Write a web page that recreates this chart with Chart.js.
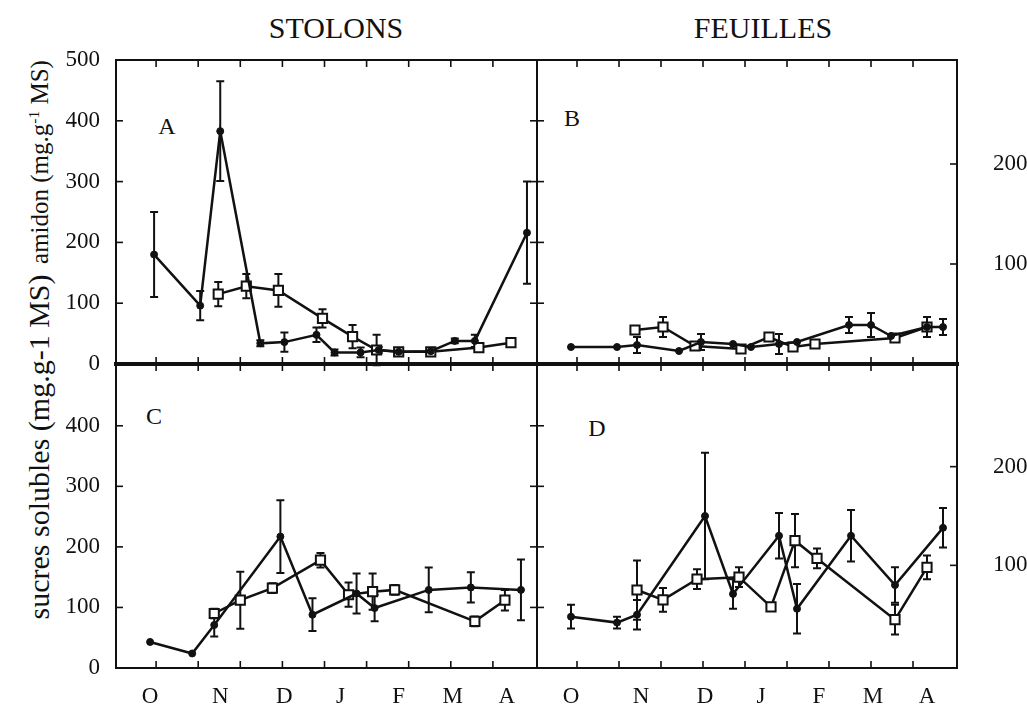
<!DOCTYPE html>
<html><head><meta charset="utf-8">
<script src="https://cdn.jsdelivr.net/npm/chart.js@4.4.1/dist/chart.umd.min.js"></script>
<style>
html,body{margin:0;padding:0;background:#fff;}
body{width:1027px;height:705px;overflow:hidden;position:relative;font-family:"Liberation Serif","Times New Roman",serif;color:#111;}
canvas{position:absolute;}
.t{position:absolute;white-space:nowrap;line-height:1;transform:translate(-50%,-50%);}
.r{position:absolute;white-space:nowrap;line-height:1;transform:translate(-50%,-50%) rotate(-90deg);}
sup{font-size:0.62em;vertical-align:0.55em;}
</style></head><body>
<div class="t" style="left:336px;top:28px;font-size:30px;">STOLONS</div>
<div class="t" style="left:763px;top:28px;font-size:30px;">FEUILLES</div>
<div class="r" style="left:39px;top:162px;font-size:25px;">amidon (mg.g<sup>-1</sup> MS)</div>
<div class="r" style="left:39px;top:447px;font-size:30px;">sucres solubles (mg.g-1 MS)</div>
<div class="t" style="left:167px;top:126px;font-size:24px;">A</div>
<div class="t" style="left:572px;top:118px;font-size:24px;">B</div>
<div class="t" style="left:154px;top:416px;font-size:24px;">C</div>
<div class="t" style="left:597px;top:428px;font-size:24px;">D</div>

<canvas id="cA" width="543" height="370" style="left:0;top:0;width:543px;height:370px"></canvas>
<canvas id="cB" width="497" height="370" style="left:530px;top:0;width:497px;height:370px"></canvas>
<canvas id="cC" width="543" height="347" style="left:0;top:358px;width:543px;height:347px"></canvas>
<canvas id="cD" width="497" height="347" style="left:530px;top:358px;width:497px;height:347px"></canvas>

<script>
// ---------- axis definitions ----------
const monthLabels = ['O','N','D','J','F','M','A'];
const monthPos    = [17, 52, 84, 112, 141, 168, 195];      // days from start of season
const xTickDays   = [20, 41, 62, 83, 104, 125, 146, 167, 188];
const xMin = 0, xMax = 210;
const yTicksStolonsA = [0, 100, 200, 300, 400, 500];
const yTicksStolonsC = [0, 100, 200, 300, 400];
const yTicksFeuilles = [100, 200];

// ---------- A : amidon, stolons ----------
const xA1 = [19, 42, 52, 72, 84, 100, 109, 122, 131, 141, 157, 169, 179, 205];
const yA1 = [180, 96, 383, 34, 36, 48, 19, 19, 23, 20, 21, 38, 38, 216];
const eA1 = [70, 24, 82, 5, 16, 12, 5, 8, 5, 4, 4, 4, 10, 84];
const xA2 = [51, 65, 81, 103, 118, 130, 141, 157, 181, 197];
const yA2 = [115, 128, 121, 75, 45, 23, 20, 20, 27, 35];
const eA2 = [20, 20, 27, 15, 19, 25, 4, 4, 5, 0];

// ---------- B : amidon, feuilles ----------
const xB1 = [17, 40, 50, 71, 82, 98, 107, 121, 130, 156, 167, 177, 195, 203];
const yB1 = [17, 17, 19, 13, 22, 20, 17, 20, 22, 39, 39, 28, 37, 37];
const eB1 = [0, 0, 8, 0, 8, 0, 0, 10, 0, 8, 12, 0, 10, 8];
const xB2 = [49, 63, 79, 102, 116, 128, 139, 179, 195];
const yB2 = [34, 37, 18, 15, 27, 17, 20, 26, 37];
const eB2 = [0, 10, 0, 0, 0, 0, 0, 0, 0];

// ---------- C : sucres solubles, stolons ----------
const xC1 = [17, 38, 49, 82, 98, 120, 129, 156, 177, 202];
const yC1 = [43, 24, 71, 217, 88, 123, 99, 129, 133, 129];
const eC1 = [0, 0, 19, 60, 27, 33, 22, 37, 25, 50];
const xC2 = [49, 62, 78, 102, 116, 128, 139, 179, 194];
const yC2 = [90, 112, 132, 178, 121, 126, 129, 77, 112];
const eC2 = [8, 47, 8, 12, 20, 30, 8, 8, 17];

// ---------- D : sucres solubles, feuilles ----------
const xD1 = [17, 40, 50, 84, 98, 121, 130, 157, 179, 203];
const yD1 = [48, 42, 50, 150, 71, 130, 56, 130, 80, 138];
const eD1 = [12, 6, 15, 64, 15, 23, 25, 26, 18, 20];
const xD2 = [50, 63, 80, 101, 117, 129, 140, 179, 195];
const yD2 = [75, 65, 86, 88, 58, 125, 107, 45, 98];
const eD2 = [30, 12, 10, 10, 0, 27, 10, 15, 12];

const INK = '#111';
const TICK_FONT = 23;
Chart.defaults.font.family = "'Liberation Serif','Times New Roman',serif";
Chart.defaults.color = INK;

const errorBars = {
  id: 'errorBars',
  beforeDatasetsDraw(chart) {
    const ctx = chart.ctx;
    chart.data.datasets.forEach((ds, i) => {
      const meta = chart.getDatasetMeta(i);
      const ys = chart.scales[ds.yAxisID];
      ctx.save();
      ctx.strokeStyle = INK; ctx.lineWidth = 2;
      ds.data.forEach((p, j) => {
        const e = ds.errors[j];
        if (!e) return;
        const x = meta.data[j].x;
        const y1 = ys.getPixelForValue(p.y + e), y2 = ys.getPixelForValue(p.y - e);
        ctx.beginPath();
        ctx.moveTo(x, y1); ctx.lineTo(x, y2);
        ctx.moveTo(x - 4, y1); ctx.lineTo(x + 4, y1);
        ctx.moveTo(x - 4, y2); ctx.lineTo(x + 4, y2);
        ctx.stroke();
      });
      ctx.restore();
    });
  }
};

const frame = {
  id: 'frame',
  afterDraw(chart, args, o) {
    const ctx = chart.ctx, a = chart.chartArea;
    ctx.save();
    ctx.strokeStyle = INK; ctx.lineCap = 'square';
    const line = (x1, y1, x2, y2, w) => { ctx.lineWidth = w; ctx.beginPath(); ctx.moveTo(x1, y1); ctx.lineTo(x2, y2); ctx.stroke(); };
    line(a.left, a.top, a.right, a.top, o.topW);
    line(a.left, a.bottom, a.right, a.bottom, o.bottomW);
    line(a.left, a.top, a.left, a.bottom, 2);
    line(a.right, a.top, a.right, a.bottom, 2);
    ctx.lineCap = 'butt';
    const L = 7;
    const sl = chart.scales[o.leftScale], sr = chart.scales[o.rightScale], sx = chart.scales.x;
    o.leftVals.forEach(v => { const p = sl.getPixelForValue(v); if (p > a.top + 2 && p < a.bottom - 2) line(a.left, p, a.left + L, p, 1.6); });
    o.rightVals.forEach(v => { const p = sr.getPixelForValue(v); if (p > a.top + 2 && p < a.bottom - 2) line(a.right, p, a.right - L, p, 1.6); });
    o.xVals.forEach(v => { const p = sx.getPixelForValue(v); line(p, a.top, p, a.top + L, 1.6); line(p, a.bottom, p, a.bottom - L, 1.6); });
    ctx.restore();
  }
};

function series(xs, ys, errs, open, axis) {
  return {
    data: xs.map((x, i) => ({ x: x, y: ys[i] })),
    errors: errs,
    yAxisID: axis,
    borderColor: INK,
    borderWidth: 2.5,
    backgroundColor: open ? '#fff' : INK,
    pointBackgroundColor: open ? '#fff' : INK,
    pointBorderColor: INK,
    pointBorderWidth: open ? 2 : 1,
    pointStyle: open ? 'rect' : 'circle',
    pointRadius: open ? 6.5 : 3.5,
    fill: false,
    clip: false,
    tension: 0
  };
}

function fixedTicks(vals) { return s => { s.ticks = vals.map(v => ({ value: v })); }; }
function fixSize(dim, size) {
  return s => {
    s[dim] = size;
    s.paddingTop = 0; s.paddingBottom = 0; s.paddingLeft = 0; s.paddingRight = 0;
  };
}

function panel(id, opts) {
  const scales = {
    x: {
      type: 'linear', position: 'bottom', min: xMin, max: xMax,
      grid: { display: false }, border: { display: false },
      afterBuildTicks: fixedTicks(monthPos),
      ticks: {
        display: opts.months, autoSkip: false, maxRotation: 0, padding: 7,
        font: { size: TICK_FONT }, color: INK,
        callback: (v, i) => monthLabels[i]
      },
      afterFit: fixSize('height', opts.months ? 37 : 0)
    },
    y: {
      type: 'linear', position: 'left', min: 0, max: opts.leftMax,
      grid: { display: false }, border: { display: false },
      afterBuildTicks: fixedTicks(opts.leftLabels || []),
      ticks: { display: !!opts.leftLabels, padding: 8, font: { size: TICK_FONT }, color: INK },
      afterFit: fixSize('width', opts.leftLabels ? 116 : 0)
    }
  };
  if (opts.right) {
    scales.y2 = {
      type: 'linear', position: 'right', min: opts.right.min, max: opts.right.max,
      grid: { display: false }, border: { display: false },
      afterBuildTicks: fixedTicks(yTicksFeuilles),
      ticks: { padding: 28, font: { size: TICK_FONT }, color: INK },
      afterFit: fixSize('width', 70)
    };
  }
  return new Chart(document.getElementById(id), {
    type: 'line',
    data: { datasets: opts.datasets },
    options: {
      responsive: false, maintainAspectRatio: false, animation: false,
      layout: { padding: opts.padding, autoPadding: false },
      scales: scales,
      plugins: {
        legend: { display: false }, tooltip: { enabled: false },
        frame: {
          topW: opts.topW, bottomW: opts.bottomW,
          leftScale: 'y', leftVals: yTicksStolonsA,
          rightScale: opts.right ? 'y2' : 'y', rightVals: opts.right ? yTicksFeuilles : yTicksStolonsA,
          xVals: xTickDays
        }
      }
    },
    plugins: [errorBars, frame]
  });
}

panel('cA', {
  months: false, leftMax: 500, leftLabels: yTicksStolonsA,
  padding: { top: 60, right: 6, bottom: 6, left: 0 }, topW: 2, bottomW: 4,
  datasets: [series(xA1, yA1, eA1, false, 'y'), series(xA2, yA2, eA2, true, 'y')]
});
panel('cB', {
  months: false, leftMax: 500, leftLabels: null, right: { min: 0, max: 304 },
  padding: { top: 60, right: 0, bottom: 6, left: 7 }, topW: 2, bottomW: 4,
  datasets: [series(xB1, yB1, eB1, false, 'y2'), series(xB2, yB2, eB2, true, 'y2')]
});
panel('cC', {
  months: true, leftMax: 502, leftLabels: yTicksStolonsC,
  padding: { top: 6, right: 6, bottom: 0, left: 0 }, topW: 4, bottomW: 2,
  datasets: [series(xC1, yC1, eC1, false, 'y'), series(xC2, yC2, eC2, true, 'y')]
});
panel('cD', {
  months: true, leftMax: 502, leftLabels: null, right: { min: -4, max: 304 },
  padding: { top: 6, right: 0, bottom: 0, left: 7 }, topW: 4, bottomW: 2,
  datasets: [series(xD1, yD1, eD1, false, 'y2'), series(xD2, yD2, eD2, true, 'y2')]
});
</script>
</body></html>
